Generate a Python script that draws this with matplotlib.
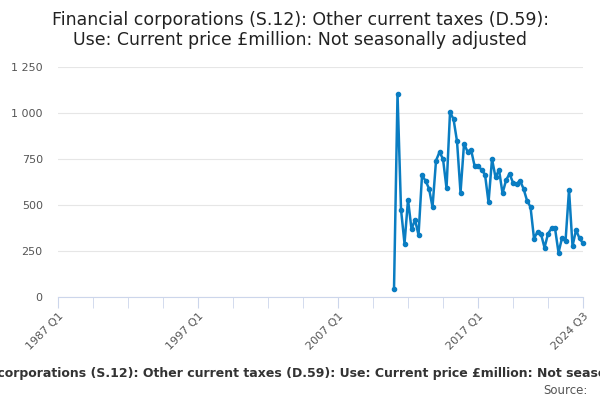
import matplotlib.pyplot as plt

title = ("Financial corporations (S.12): Other current taxes (D.59):\n"
         "Use: Current price £million: Not seasonally adjusted")
axis_title = ("Financial corporations (S.12): Other current taxes (D.59): "
              "Use: Current price £million: Not seasonally adjusted")

first_year = 1987
series_start = (2011, 1)
values = [45, 1103, 475, 290, 529, 368, 420, 337, 661, 632, 589,
          489, 741, 788, 750, 591, 1004, 967, 846, 567, 833,
          790, 801, 714, 712, 692, 665, 514, 750, 650, 692,
          563, 634, 670, 621, 614, 632, 589, 524, 489, 317,
          355, 342, 268, 344, 373, 373, 241, 321, 303, 583,
          277, 364, 319, 292]

tick_labels = ['1987 Q1', '1997 Q1', '2007 Q1', '2017 Q1', '2024 Q3']
y_ticks = [0, 250, 500, 750, 1000, 1250]


def quarter_index(label):
    year, q = label.split(' Q')
    return (int(year) - first_year) * 4 + int(q) - 1


def main():
    fig = plt.figure(figsize=(6, 4), dpi=100)
    ax = fig.add_axes([0.0967, 0.2575, 0.875, 0.575])

    start = (series_start[0] - first_year) * 4 + series_start[1] - 1
    xs = list(range(start, start + len(values)))
    ax.plot(xs, values, color='#0a7dc2', lw=1.8, marker='o', ms=3,
            clip_on=False)

    last = quarter_index(tick_labels[-1])
    ax.set_xlim(0, last)
    ax.set_ylim(0, 1250)
    ax.set_yticks(y_ticks, labels=[f'{v:,}'.replace(',', ' ') for v in y_ticks])
    ax.set_xticks([quarter_index(t) for t in tick_labels], labels=tick_labels)
    ax.set_xticks(range(0, last + 1, 10), minor=True)

    for s in ['left', 'right', 'top']:
        ax.spines[s].set_visible(False)
    ax.spines['bottom'].set_color('#ccd6eb')
    ax.grid(axis='y', color='#e6e6e6', lw=0.8)
    ax.set_axisbelow(True)

    ax.tick_params(axis='y', length=0, pad=11, labelsize=8, labelcolor='#555555')
    ax.tick_params(axis='x', which='both', length=8, color='#ccd6eb',
                   labelsize=8, labelcolor='#555555', pad=2)
    for lab in ax.get_xticklabels():
        lab.set_rotation(45)
        lab.set_ha('right')
        lab.set_rotation_mode('anchor')

    fig.text(0.5, 0.972, title, ha='center', va='top', fontsize=12.5,
             color='#222222', linespacing=1.15)
    fig.text(0.53, 0.067, axis_title, ha='center', va='center',
             fontsize=9, fontweight='bold', color='#333333')
    fig.text(0.98, 0.025, 'Source:', ha='right', va='center',
             fontsize=8.5, color='#555555')

    fig.savefig('out.png', dpi=100)


if __name__ == '__main__':
    main()
